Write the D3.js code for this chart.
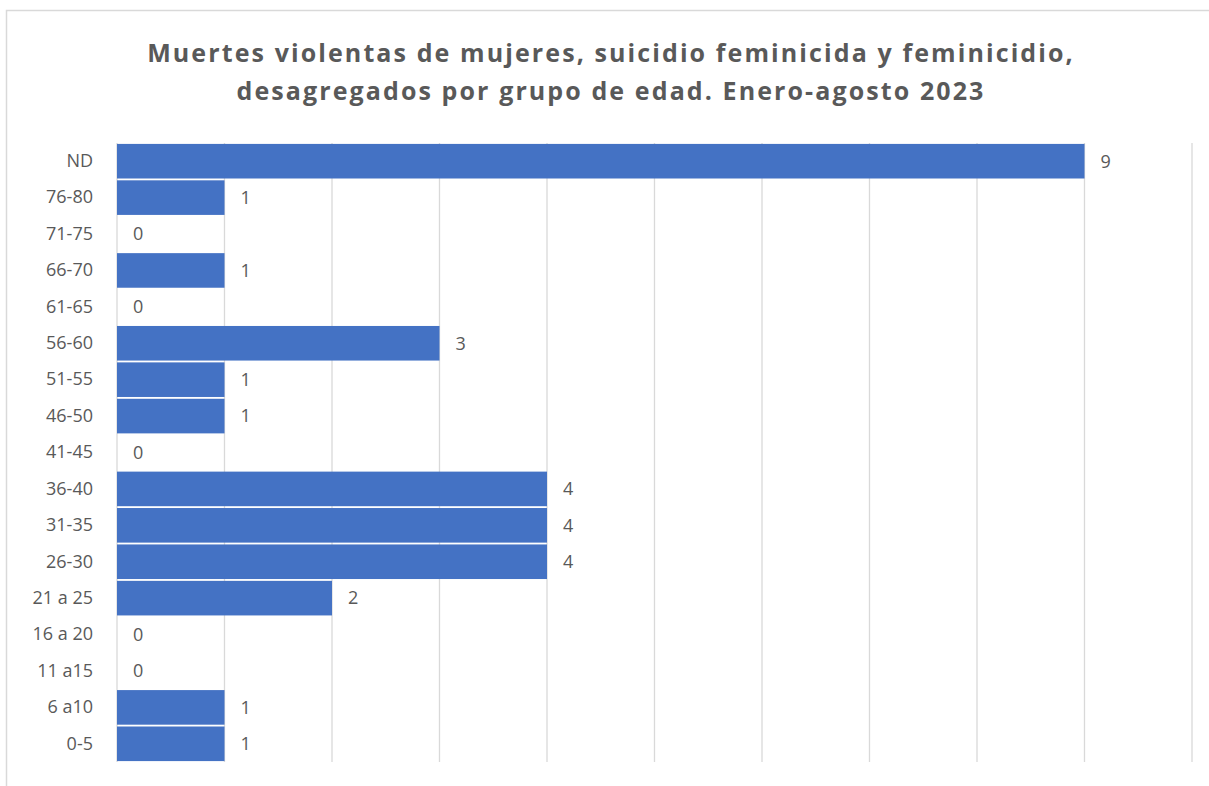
<!DOCTYPE html>
<html>
<head>
<meta charset="utf-8">
<script src="https://cdn.jsdelivr.net/npm/d3@7"></script>
<style>
  body { margin: 0; background: #fff; }
  text { font-family: "Open Sans", "Liberation Sans", sans-serif; fill: #595959; }
</style>
</head>
<body>
<script>
// Data (top to bottom as in the chart)
const categories = ['ND', '76-80', '71-75', '66-70', '61-65', '56-60', '51-55', '46-50', '41-45',
                    '36-40', '31-35', '26-30', '21 a 25', '16 a 20', '11 a15', '6 a10', '0-5'];
const values = [9, 1, 0, 1, 0, 3, 1, 1, 0, 4, 4, 4, 2, 0, 0, 1, 1];
const xTicks = [0, 1, 2, 3, 4, 5, 6, 7, 8, 9, 10];
const titleLines = ['Muertes violentas de mujeres, suicidio feminicida y feminicidio,',
                    'desagregados por grupo de edad. Enero-agosto 2023'];

const width = 1209, height = 786;
const margin = { top: 143, bottom: 24, left: 117, right: 17 };

const svg = d3.select('body').append('svg')
              .attr('width', width).attr('height', height);

// chart border
svg.append('rect')
   .attr('x', 6.5).attr('y', 10.5)
   .attr('width', width).attr('height', height)
   .attr('fill', 'none').attr('stroke', '#d9d9d9').attr('stroke-width', 1.5);

const xscale = d3.scaleLinear()
                 .domain([0, 10])
                 .range([margin.left, width - margin.right]);

const yscale = d3.scaleBand()
                 .domain(categories)
                 .range([margin.top, height - margin.bottom])
                 .paddingInner(0.05)
                 .paddingOuter(0.025);

// gridlines
svg.append('g')
   .selectAll('line')
   .data(xTicks)
   .enter()
   .append('line')
   .attr('x1', d => xscale(d)).attr('x2', d => xscale(d))
   .attr('y1', margin.top).attr('y2', height - margin.bottom)
   .attr('stroke', '#d9d9d9').attr('stroke-width', 1.3);

// y axis labels
const yaxis = svg.append('g')
                 .attr('transform', `translate(${margin.left}, 0)`)
                 .call(d3.axisLeft(yscale).tickSize(0).tickPadding(24));
yaxis.select('.domain').remove();
yaxis.selectAll('text')
     .style('font-size', '18px')
     .attr('fill', '#595959');

// bars
svg.selectAll('rect.bar')
   .data(values)
   .enter()
   .append('rect')
   .attr('class', 'bar')
   .attr('x', xscale(0))
   .attr('y', (d, i) => yscale(categories[i]))
   .attr('width', d => xscale(d) - xscale(0))
   .attr('height', yscale.bandwidth())
   .attr('fill', '#4472c4');

// value labels
svg.selectAll('text.val')
   .data(values)
   .enter()
   .append('text')
   .attr('class', 'val')
   .attr('x', d => xscale(d) + 16)
   .attr('y', (d, i) => yscale(categories[i]) + yscale.bandwidth() / 2)
   .attr('dy', '0.35em')
   .style('font-size', '18px')
   .text(d => d);

// title
svg.selectAll('text.title')
   .data(titleLines)
   .enter()
   .append('text')
   .attr('class', 'title')
   .attr('x', 611)
   .attr('y', (d, i) => 62 + i * 38)
   .attr('text-anchor', 'middle')
   .style('font-size', '25px')
   .style('font-weight', 'bold')
   .style('letter-spacing', '2.1px')
   .text(d => d);
</script>
</body>
</html>
